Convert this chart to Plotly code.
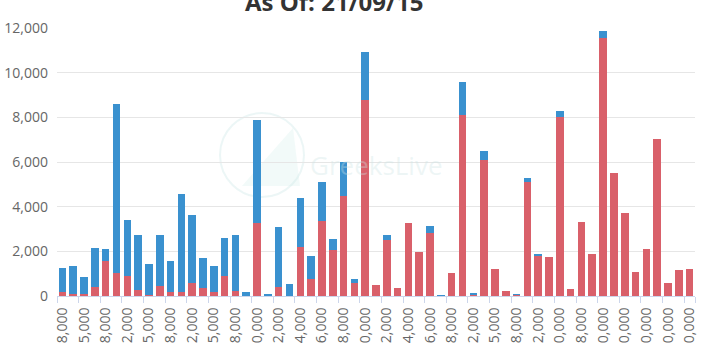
import plotly.graph_objects as go

# Strike prices (categories)
strikes = [
    "18,000", "20,000", "25,000", "26,000", "28,000", "30,000", "32,000", "34,000",
    "35,000", "36,000", "38,000", "40,000", "42,000", "44,000", "45,000", "46,000",
    "48,000", "49,000", "50,000", "51,000", "52,000", "53,000", "54,000", "55,000",
    "56,000", "57,000", "58,000", "59,000", "60,000", "61,000", "62,000", "63,000",
    "64,000", "65,000", "66,000", "67,000", "68,000", "70,000", "72,000", "74,000",
    "75,000", "76,000", "78,000", "80,000", "82,000", "85,000", "90,000", "95,000",
    "98,000", "100,000", "110,000", "120,000", "130,000", "140,000", "150,000",
    "160,000", "180,000", "200,000", "250,000",
]

# Open interest per strike
calls = [
    165, 75, 75, 420, 1550, 1010, 900, 270, 30, 460, 180, 165, 570, 340, 165, 900,
    240, 0, 3250, 30, 420, 0, 2210, 750, 3370, 2060, 4490, 570, 8760, 490, 2510, 360,
    3270, 1980, 2800, 30, 1010, 8100, 70, 6090, 1220, 240, 50, 5090, 1830, 1730,
    8020, 300, 3310, 1890, 11570, 5500, 3730, 1060, 2120, 7040, 570, 1160, 1190,
]
puts = [
    1105, 1285, 760, 1730, 570, 7590, 2490, 2470, 1400, 2250, 1390, 4385, 3050, 1360,
    1195, 1700, 2490, 180, 4620, 30, 2680, 520, 2190, 1040, 1730, 475, 1510, 176,
    2170, 0, 220, 0, 0, 0, 346, 15, 0, 1460, 49, 410, 0, 0, 39, 190, 50, 0, 270, 0,
    0, 0, 290, 0, 0, 0, 0, 0, 0, 0, 0,
]

title_text = "As Of: 21/09/15"
y_ticks = [0, 2000, 4000, 6000, 8000, 10000, 12000]

RED = "#d9606a"
BLUE = "#3a91cf"
FONT = "Open Sans"

idx = list(range(len(strikes)))

fig = go.Figure()
fig.add_trace(go.Bar(x=idx, y=calls, name="Calls", marker=dict(color=RED, line_width=0)))
fig.add_trace(go.Bar(x=idx, y=puts, name="Puts", marker=dict(color=BLUE, line_width=0)))
# helper trace so the boundary-tick axis gets drawn
fig.add_trace(go.Scatter(x=[-0.5], y=[0], xaxis="x2", mode="lines",
                         showlegend=False, hoverinfo="skip"))

L, R, T, B = 57, 9, 28, 47
W, H = 704, 343
pw = W - L - R
ph = H - T - B


def px(xp):
    return (xp - L) / pw


def py(yp):
    return (H - B - yp) / ph


# faint watermark logo and name
fig.add_shape(type="circle", xref="paper", yref="paper", layer="below",
              x0=px(220), x1=px(304), y0=py(197), y1=py(113),
              line=dict(color="rgba(200,228,228,0.35)", width=2))
fig.add_shape(type="path", xref="paper", yref="paper", layer="below",
              path=f"M {px(242)},{py(186)} L {px(293)},{py(128)} L {px(300)},{py(186)} Z",
              fillcolor="rgba(210,236,234,0.28)", line=dict(width=0))
fig.add_annotation(text="GreeksLive", xref="paper", yref="paper", x=px(376), y=py(165),
                   showarrow=False, font=dict(family=FONT, size=26, color="rgba(205,228,228,0.35)"))

fig.add_annotation(text=f"<b>{title_text}</b>", xref="paper", yref="paper",
                   x=px(334), y=1, yanchor="bottom", xanchor="center", yshift=8,
                   showarrow=False, font=dict(family=FONT, size=24, color="#333333"))

fig.update_layout(
    width=W, height=H,
    margin=dict(l=L, r=R, t=T, b=B, pad=0),
    barmode="stack", bargap=0.3,
    plot_bgcolor="white", paper_bgcolor="white",
    showlegend=False,
    font=dict(family=FONT, size=14, color="#666666"),
    xaxis=dict(
        range=[-0.5, len(strikes) - 0.5],
        tickmode="array",
        tickvals=idx[::2],
        ticktext=strikes[::2],
        tickangle=-90,
        ticks="",
        showgrid=False, zeroline=False,
        showline=True, linecolor="#ccd6eb", linewidth=1,
        automargin=False,
        tickfont=dict(family=FONT, size=14, color="#666666"),
        ticklabelstandoff=5,
    ),
    xaxis2=dict(
        overlaying="x", matches="x",
        range=[-0.5, len(strikes) - 0.5],
        tickmode="array",
        tickvals=[i - 0.5 for i in idx[::2]] + [len(strikes) - 0.5],
        ticks="outside", ticklen=6, tickcolor="#ccd6eb",
        showticklabels=False, showgrid=False, zeroline=False, showline=False,
        side="bottom",
    ),
    yaxis=dict(
        range=[0, 12000],
        tickmode="array",
        tickvals=y_ticks,
        tickformat=",",
        showgrid=True, gridcolor="#e6e6e6", gridwidth=1,
        zeroline=False, showline=False,
        automargin=False,
        ticklabelstandoff=8,
        tickfont=dict(family=FONT, size=14, color="#666666"),
    ),
)

fig.write_html("out.html")
